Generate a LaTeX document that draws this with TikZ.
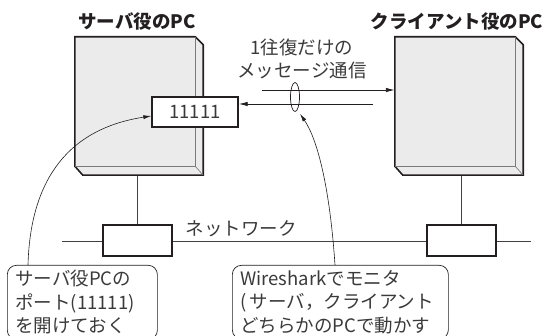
\documentclass[tikz,border=0pt]{standalone}
\usepackage{fontspec}
\setmainfont{Noto Sans CJK JP}
\usetikzlibrary{arrows.meta,calc,shapes.geometric}
\definecolor{ink}{HTML}{231F20}
\definecolor{txt}{HTML}{3A3A3A}
\definecolor{pcfill}{HTML}{EBEBEB}
\begin{document}
\begin{tikzpicture}[x=1pt,y=-1pt,
  every node/.style={text=txt},
  jp/.style={font=\fontsize{18.5pt}{23.5pt}\selectfont},
  title/.style={font=\fontsize{18.5pt}{22pt}\selectfont\bfseries, text=ink},
  pcout/.style={draw=ink, line width=1.6pt, fill=pcfill, line join=miter},
  pcedge/.style={draw=ink!60, line width=0.6pt},
  boxst/.style={draw=ink, line width=1.4pt, fill=white, inner sep=0pt},
  wire/.style={draw=ink!85, line width=0.7pt},
  arr/.style={draw=ink, line width=0.9pt, -{Latex[length=9pt,width=4.5pt]}},
  callout/.style={draw=ink, line width=0.6pt, -{Latex[length=8pt,width=4pt]}},
  bubble/.style={draw=ink, line width=0.7pt, rounded corners=9pt, anchor=north west, align=left, inner xsep=8pt, inner ysep=5pt, jp}
]
\useasboundingbox (0,0) rectangle (550,336);

% network
\coordinate (nL) at (62,241);
\coordinate (nR) at (531,241);
\draw[wire] (nL) -- (nR);
\node[boxst, minimum width=69pt, minimum height=31pt] (nic1) at (137.5,240.5) {};
\node[boxst, minimum width=69pt, minimum height=31pt] (nic2) at (461.5,240.5) {};
\draw[wire] (nic1.north) -- (nic1.north |- 0,170);
\draw[wire] (nic2.north) -- (nic2.north |- 0,170);
\node[jp, anchor=west] (netlbl) at (182,229) {ネットワーク};

% PCs
\node[minimum width=120pt, minimum height=129pt, inner sep=0pt] (srv) at (135,101.5) {};
\node[minimum width=120pt, minimum height=129pt, inner sep=0pt] (cli) at (455,101.5) {};
\foreach \p in {srv,cli}{
  \path[pcout] (\p.north west) -- (\p.north east) -- ++(8,8) -- ($(\p.south east)+(8,9)$) -- ($(\p.south west)+(8,9)$) -- (\p.south west) -- cycle;
  \draw[pcedge] (\p.north east) -- (\p.south east) -- (\p.south west);
  \draw[pcedge] (\p.south east) -- ++(8,9);
}
\node[title] (srvT) at (137,22) {サーバ役のPC};
\node[title] (cliT) at (457,22) {クライアント役のPC};

% port box
\node[boxst, minimum width=86pt, minimum height=30pt, jp] (port) at (195,112) {11111};

% messages
\node[jp, align=center] (msg) at (302,59) {1往復だけの\\メッセージ通信};
\coordinate (m1) at (262,90);
\coordinate (m2) at (373,104);
\draw[arr] (m1) -- (m1 -| cli.west);
\draw[arr] (m2) -- (m2 -| port.east);
\node[draw=ink, line width=0.7pt, ellipse, minimum width=9pt, minimum height=29pt, inner sep=0pt] (loop) at (295,97) {};

% notes
\node[bubble, text width=134pt] (note1) at (7,265) {サーバ役PCの\\ポート(11111)\\を開けておく};
\node[bubble, text width=200pt] (note2) at (232,265) {Wiresharkでモニタ\\(\,サーバ，クライアント\\どちらかのPCで動かす};

\draw[callout] ($(note1.north west)+(21,0)$) .. controls (30,190) and (60,130) .. ($(port.west)+(0,4)$);
\draw[callout] ($(note2.north west)+(103,0)$) .. controls (330,190) and (318,140) .. ($(loop.south)+(5,2)$);
\end{tikzpicture}
\end{document}
